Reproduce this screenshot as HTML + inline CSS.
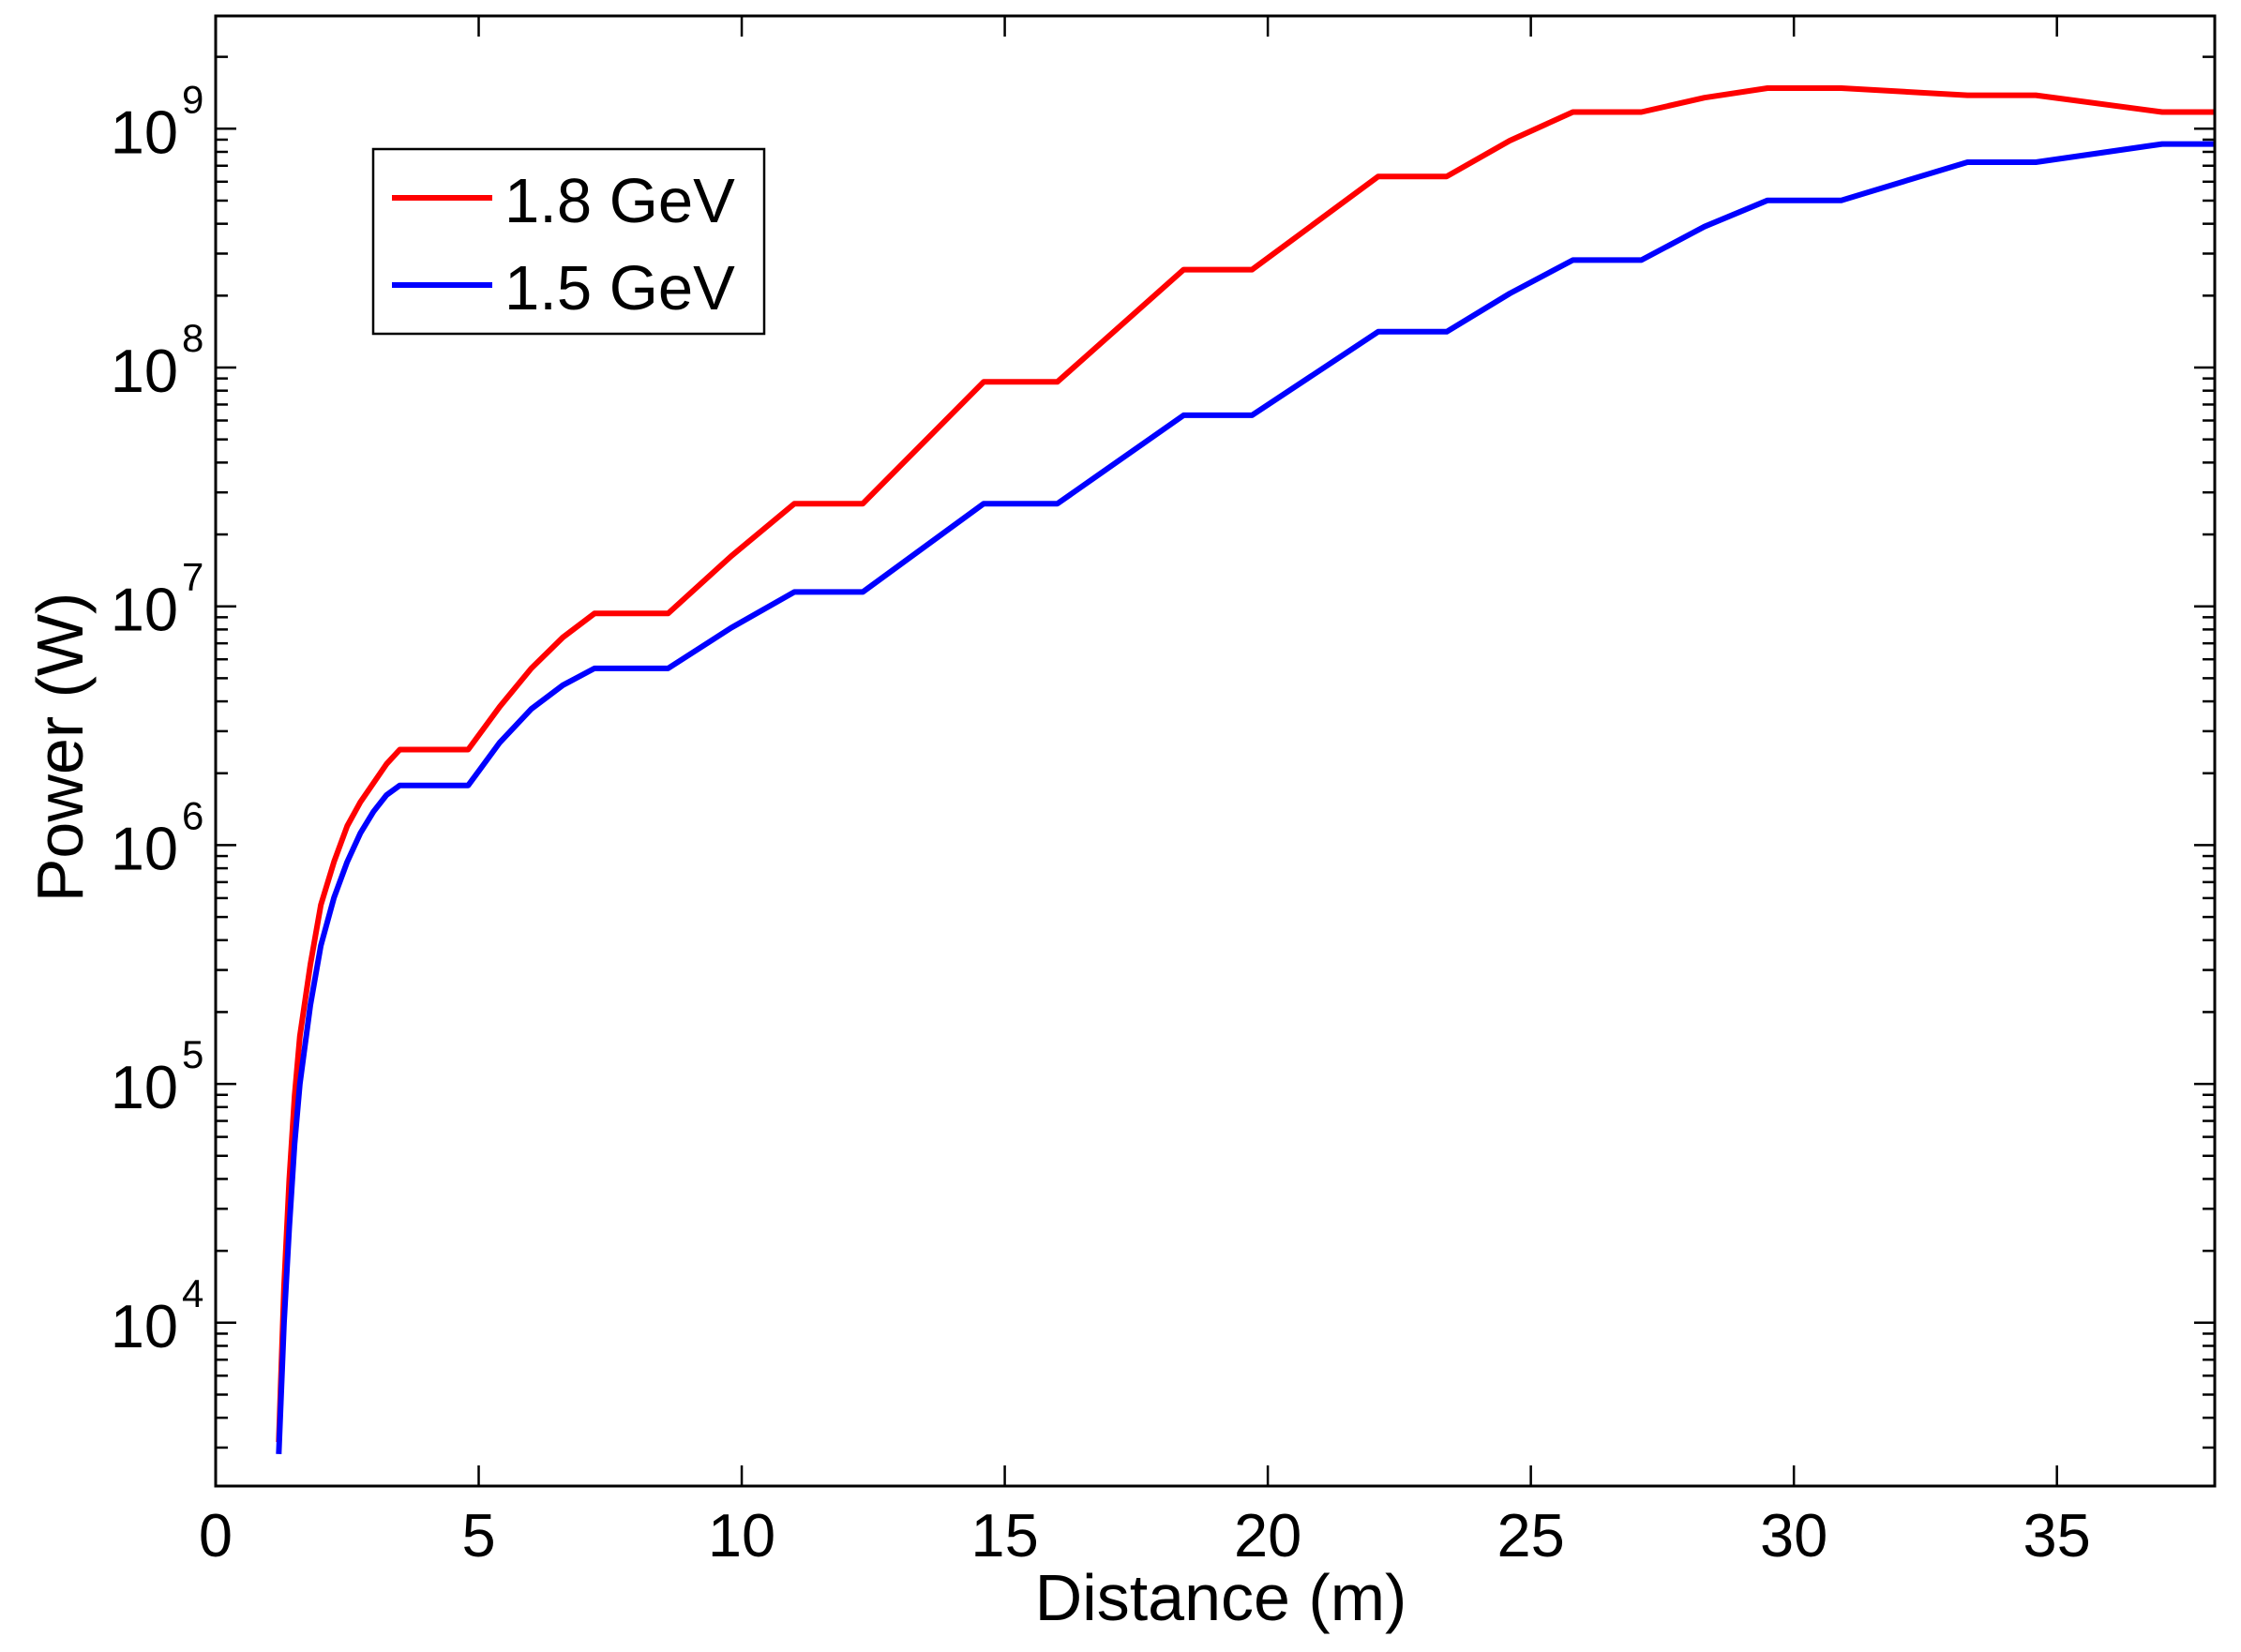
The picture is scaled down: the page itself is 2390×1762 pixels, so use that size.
<!DOCTYPE html>
<html><head><meta charset="utf-8"><style>
body{margin:0;background:#fff}
svg{display:block;font-family:"Liberation Sans",Arial,sans-serif}
</style></head><body>
<svg id="chart" width="2390" height="1762" viewBox="0 0 2390 1762" xmlns="http://www.w3.org/2000/svg">
<rect width="2390" height="1762" fill="#fff"/>
<g id="ticks"></g>
<g id="series"></g>
<rect x="230" y="17" width="2132" height="1568" fill="none" stroke="#000" stroke-width="3"/>
<g>
<rect x="398" y="159" width="417" height="197" fill="#fff" stroke="#000" stroke-width="2.5"/>
<line x1="418" y1="211" x2="525" y2="211" stroke="#ff0000" stroke-width="6"/>
<text x="538" y="237" font-size="67">1.8 GeV</text>
<line x1="418" y1="304" x2="525" y2="304" stroke="#0000ff" stroke-width="6"/>
<text x="538" y="330" font-size="67">1.5 GeV</text>
</g>
<text x="1302" y="1728" font-size="70" text-anchor="middle">Distance (m)</text>
<text transform="translate(88,797) rotate(-90)" font-size="70" text-anchor="middle">Power (W)</text>
</svg>
<script>
const xTicks=[0,5,10,15,20,25,30,35];
const yDecades=[4,5,6,7,8,9];
const distance=[1.2,1.3,1.4,1.5,1.6,1.8,2.0,2.25,2.5,2.75,3.0,3.25,3.5,4.8,5.4,6.0,6.6,7.2,8.6,9.8,11.0,12.3,14.6,16.0,18.4,19.7,22.1,23.4,24.6,25.8,27.1,28.3,29.5,30.9,33.3,34.6,37.0,38.0];
const logPower18=[3.5,4.15,4.6,4.95,5.2,5.5,5.75,5.93,6.08,6.18,6.26,6.34,6.40,6.40,6.58,6.74,6.87,6.97,6.97,7.21,7.43,7.43,7.94,7.94,8.41,8.41,8.80,8.80,8.95,9.07,9.07,9.13,9.17,9.17,9.14,9.14,9.07,9.07];
const logPower15=[3.45,4.0,4.4,4.75,5.0,5.33,5.58,5.78,5.93,6.05,6.14,6.21,6.25,6.25,6.43,6.57,6.67,6.74,6.74,6.91,7.06,7.06,7.43,7.43,7.80,7.80,8.15,8.15,8.31,8.45,8.45,8.59,8.70,8.70,8.86,8.86,8.936,8.936];
const NS="http://www.w3.org/2000/svg";
const L=230,R=2362,T=17,B=1585;
const xs=v=>L+(v/38)*(R-L);
const ys=lg=>137.3+(9-lg)*254.7;
function mk(tag,attrs,parent){const e=document.createElementNS(NS,tag);for(const k in attrs)e.setAttribute(k,attrs[k]);parent.appendChild(e);return e;}
const tg=document.getElementById('ticks');
xTicks.forEach(t=>{
  const x=xs(t);
  const a=mk('line',{x1:x,y1:B,x2:x,y2:B-22,stroke:'#000','stroke-width':2.5},tg);
  
  
  const b=mk('line',{x1:x,y1:T,x2:x,y2:T+22,stroke:'#000','stroke-width':2.5},tg);
  
  
  const tx=mk('text',{x:x,y:1660,'font-size':65,'text-anchor':'middle'},tg);
  tx.textContent=String(t);
  
  
});
for(let d=3;d<=9;d++){
  for(let m=1;m<=9;m++){
    const lg=d+Math.log10(m);
    const y=ys(lg);
    if(y<T||y>B)continue;
    const len=m===1?22:13;
    const a=mk('line',{x1:L,y1:y,x2:L+len,y2:y,stroke:'#000','stroke-width':2.5},tg);
    
    
    const b=mk('line',{x1:R,y1:y,x2:R-len,y2:y,stroke:'#000','stroke-width':2.5},tg);
    
    
  }
}
yDecades.forEach(d=>{
  const y=ys(d);
  const t=mk('text',{x:190,y:y+26,'font-size':65,'text-anchor':'end'},tg);
  t.textContent='10';
  
  
  const s=mk('text',{x:194,y:y-17,'font-size':42},tg);
  s.textContent=String(d);
  
  
});
const sg=document.getElementById('series');
function line(vals,color,name){
  const d=distance.map((x,i)=>(i?'L':'M')+xs(x).toFixed(1)+','+ys(vals[i]).toFixed(1)).join(' ');
  const p=mk('path',{d:d,fill:'none',stroke:color,'stroke-width':6,'stroke-linejoin':'round'},sg);
  
  
}
line(logPower18,'#ff0000','series-1-8-gev');
line(logPower15,'#0000ff','series-1-5-gev');
</script>
</body></html>
